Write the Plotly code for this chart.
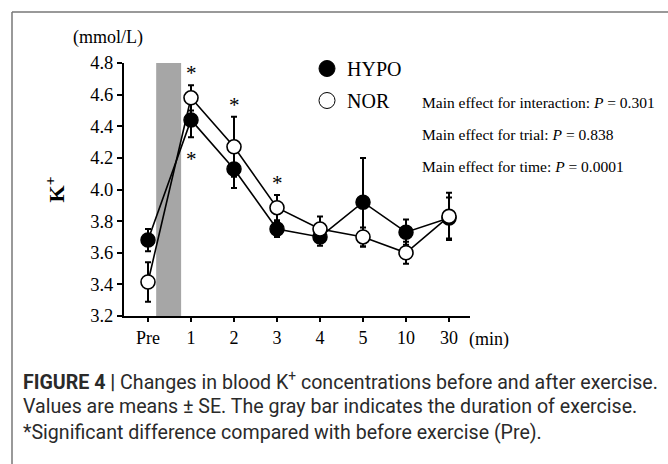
import plotly.graph_objects as go

# ---- data ----
time_labels = ["Pre", "1", "2", "3", "4", "5", "10", "30"]
hypo_mean = [3.68, 4.44, 4.13, 3.75, 3.70, 3.92, 3.73, 3.82]
hypo_se = [0.07, 0.11, 0.12, 0.05, 0.055, 0.28, 0.08, 0.13]
nor_mean = [3.415, 4.58, 4.27, 3.885, 3.75, 3.70, 3.60, 3.83]
nor_se = [0.125, 0.08, 0.19, 0.08, 0.08, 0.06, 0.07, 0.15]
# significance marks: (time label, series, side)
sig_marks = [("1", "NOR", "above"), ("1", "HYPO", "below"), ("2", "NOR", "above"), ("3", "NOR", "above")]
stats_lines = [
    "Main effect for interaction: <i>P</i> = 0.301",
    "Main effect for trial: <i>P</i> = 0.838",
    "Main effect for time: <i>P</i> = 0.0001",
]
caption_lines = [
    "<b>FIGURE 4 |</b> Changes in blood K<sup>+</sup> concentrations before and after exercise.",
    "Values are means \u00b1 SE. The gray bar indicates the duration of exercise.",
    "*Significant difference compared with before exercise (Pre).",
]
exercise_span = (0.19, 0.77)  # in category-index units, between Pre and 1

W, H = 668, 464
L, R, T, B = 124, 198, 63, 148
PW, PH = W - L - R, H - T - B
SERIF = "Liberation Serif, Times New Roman, serif"
SANS = "Roboto, Liberation Sans, Arial, sans-serif"


def px(x):
    return (x - L) / PW


def py(y):
    return (H - B - y) / PH


xs = list(range(len(time_labels)))

fig = go.Figure()
fig.add_trace(go.Scatter(
    x=xs, y=hypo_mean, name="HYPO", mode="lines+markers", showlegend=False,
    line=dict(color="black", width=1.6),
    marker=dict(size=14, color="black", line=dict(color="black", width=1.5)),
    error_y=dict(type="data", array=hypo_se, visible=True, color="black", thickness=2, width=3),
))
fig.add_trace(go.Scatter(
    x=xs, y=nor_mean, name="NOR", mode="lines+markers", showlegend=False,
    line=dict(color="black", width=1.6),
    marker=dict(size=14, color="white", line=dict(color="black", width=1.6)),
    error_y=dict(type="data", array=nor_se, visible=True, color="black", thickness=2, width=3),
))
# legend entries (marker only)
fig.add_trace(go.Scatter(x=[None], y=[None], name="HYPO", mode="markers", legendgroup="a",
                         marker=dict(size=16, color="black", line=dict(color="black", width=1))))
fig.add_trace(go.Scatter(x=[None], y=[None], name="NOR", mode="markers", legendgroup="b",
                         marker=dict(size=16, color="white", line=dict(color="black", width=1))))

shapes = [
    dict(type="rect", xref="x", yref="y", x0=exercise_span[0], x1=exercise_span[1], y0=3.2, y1=4.8,
         fillcolor="#a6a6a6", line=dict(width=0), layer="below"),
    # figure frame
    dict(type="line", xref="paper", yref="paper", x0=px(12), x1=px(12), y0=py(12), y1=py(470),
         line=dict(color="#777777", width=1.5)),
    dict(type="line", xref="paper", yref="paper", x0=px(12), x1=px(680), y0=py(12), y1=py(12),
         line=dict(color="#777777", width=1.5)),
]

ann = []
series = {"HYPO": (hypo_mean, hypo_se), "NOR": (nor_mean, nor_se)}
for lab, s, side in sig_marks:
    i = time_labels.index(lab)
    m, se = series[s]
    if side == "above":
        yv, ys = m[i] + se[i], 12
    else:
        yv, ys = m[i] - se[i], -22
    ann.append(dict(x=i, y=yv, xref="x", yref="y", text="*", showarrow=False,
                    yshift=ys, font=dict(family=SERIF, size=21, color="black")))

for k, t in enumerate(stats_lines):
    ann.append(dict(x=px(420), y=py(102 + 32 * k), xref="paper", yref="paper", text=t,
                    showarrow=False, xanchor="left", yanchor="middle",
                    font=dict(family=SERIF, size=15.5, color="black")))

ann.append(dict(x=px(108), y=py(38), xref="paper", yref="paper", text="(mmol/L)", showarrow=False,
                xanchor="center", yanchor="middle", font=dict(family=SERIF, size=18, color="black")))
ann.append(dict(x=px(467), y=py(339), xref="paper", yref="paper", text="(min)", showarrow=False,
                xanchor="left", yanchor="middle", font=dict(family=SERIF, size=18, color="black")))

for k, t in enumerate(caption_lines):
    ann.append(dict(x=px(21), y=py(381 + 25.5 * k), xref="paper", yref="paper", text=t,
                    showarrow=False, xanchor="left", yanchor="middle",
                    font=dict(family=SANS, size=19.6, color="#2a2a2a")))

fig.update_layout(
    width=W, height=H,
    margin=dict(l=L, r=R, t=T, b=B, autoexpand=False),
    paper_bgcolor="white", plot_bgcolor="white",
    showlegend=True,
    legend=dict(x=px(307), y=py(49), xanchor="left", yanchor="top",
                font=dict(family=SERIF, size=20, color="black"),
                tracegroupgap=3, bgcolor="rgba(0,0,0,0)", itemsizing="trace"),
    shapes=shapes, annotations=ann,
    font=dict(family=SERIF, color="black"),
)
fig.update_xaxes(
    range=[-0.558, 7.488], tickvals=xs, ticktext=time_labels,
    showline=True, linecolor="black", linewidth=2, mirror=False,
    ticks="outside", ticklen=4, tickwidth=2, tickcolor="black",
    showgrid=False, zeroline=False,
    tickfont=dict(family=SERIF, size=18, color="black"),
)
fig.update_yaxes(
    range=[3.2, 4.8], dtick=0.2, tick0=3.2, tickformat=".1f",
    showline=True, linecolor="black", linewidth=2,
    ticks="outside", ticklen=5, tickwidth=1.5, tickcolor="black",
    showgrid=False, zeroline=False,
    tickfont=dict(family=SERIF, size=18.5, color="black"),
    title=dict(text="<b>K<sup>+</sup></b>", font=dict(family=SERIF, size=22, color="black"), standoff=19),
)

fig.write_html("out.html", post_script="document.body.style.margin='0';",
               config={"displayModeBar": False})
